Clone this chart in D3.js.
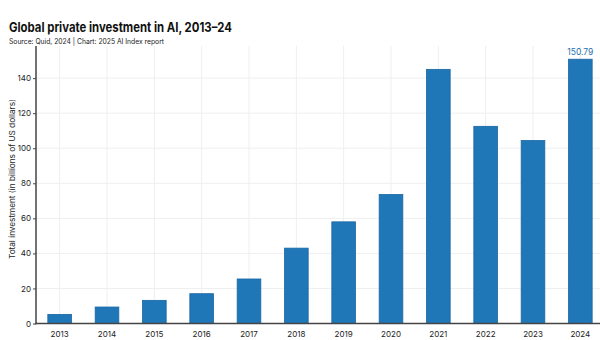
<!DOCTYPE html>
<html><head><meta charset="utf-8">
<script src="https://cdn.jsdelivr.net/npm/d3@7"></script>
<style>body{margin:0;background:#fff;}svg{display:block;}</style>
</head><body><svg id="c" width="600" height="340"></svg>
<script>
const years = ["2013","2014","2015","2016","2017","2018","2019","2020","2021","2022","2023","2024"];
const investment = [5.2, 9.4, 13.2, 17.0, 25.4, 43.0, 58.0, 73.6, 145.0, 112.5, 104.4, 150.79];
const yTicks = [0, 20, 40, 60, 80, 100, 120, 140];
const title = "Global private investment in AI, 2013–24";
const subtitle = "Source: Quid, 2024 | Chart: 2025 AI Index report";
const yLabel = "Total investment (in billions of US dollars)";

const svg = d3.select("#c");
const font = "Inter, 'Liberation Sans', Arial, sans-serif";
const mLeft = 36, mRight = 604, mTop = 46, mBottom = 323.5;

const x = d3.scaleBand().domain(years).range([mLeft, mRight]).paddingInner(0.5).paddingOuter(0.25);
const y = d3.scaleLinear().domain([0, d3.max(investment) * 1.05]).range([mBottom, mTop]);

// grid
svg.append("g").selectAll("line").data(yTicks).join("line")
  .attr("x1", mLeft).attr("x2", 600).attr("y1", d => y(d)).attr("y2", d => y(d))
  .attr("stroke", "#efefef").attr("stroke-width", 1);
svg.append("g").selectAll("line").data(years).join("line")
  .attr("x1", d => x(d) + x.bandwidth()/2).attr("x2", d => x(d) + x.bandwidth()/2)
  .attr("y1", mTop).attr("y2", mBottom)
  .attr("stroke", "#efefef").attr("stroke-width", 1);

// bars
svg.append("g").selectAll("rect").data(investment).join("rect")
  .attr("x", (d,i) => x(years[i]))
  .attr("y", d => y(d))
  .attr("width", x.bandwidth())
  .attr("height", d => y(0) - y(d))
  .attr("fill", "#1f77b8")
  .attr("stroke", "#1a66a3").attr("stroke-width", 0.8);

// last value label
const li = investment.length - 1;
svg.append("text")
  .attr("x", x(years[li]) + x.bandwidth()/2).attr("y", y(investment[li]) - 4)
  .attr("text-anchor", "middle").attr("font-family", font).attr("font-size", 8.5)
  .attr("fill", "#1f6fae").text(investment[li].toFixed(2));

// axes
const yAxis = svg.append("g").attr("transform", `translate(${mLeft},0)`)
  .call(d3.axisLeft(y).tickValues(yTicks).tickSize(3).tickPadding(2));
yAxis.select(".domain").remove();
yAxis.selectAll(".tick line").attr("stroke", "#444");
yAxis.selectAll("text").attr("font-family", font).attr("font-size", 8).attr("fill", "#222");

const xAxis = svg.append("g").attr("transform", `translate(0,${mBottom})`)
  .call(d3.axisBottom(x).tickSize(0).tickPadding(8));
xAxis.select(".domain").remove();
xAxis.selectAll("text").attr("font-family", font).attr("font-size", 8).attr("fill", "#222");

svg.append("line").attr("x1", mLeft).attr("x2", mLeft).attr("y1", mTop).attr("y2", mBottom + 0.75)
  .attr("stroke", "#444").attr("stroke-width", 1.5);
svg.append("line").attr("x1", mLeft - 0.75).attr("x2", 600).attr("y1", mBottom).attr("y2", mBottom)
  .attr("stroke", "#444").attr("stroke-width", 1.5);

// y label
svg.append("text").attr("transform", `translate(14.5,179) rotate(-90)`)
  .attr("text-anchor", "middle").attr("font-family", font).attr("font-size", 8)
  .attr("textLength", 160).attr("lengthAdjust", "spacingAndGlyphs")
  .attr("fill", "#222").text(yLabel);

// titles
svg.append("text").attr("x", 9).attr("y", 32).attr("font-family", font)
  .attr("font-size", 13.3).attr("font-weight", 700).attr("fill", "#111")
  .attr("textLength", 223).attr("lengthAdjust", "spacingAndGlyphs").text(title);
svg.append("text").attr("x", 9).attr("y", 43.5).attr("font-family", font)
  .attr("font-size", 7.3).attr("fill", "#222")
  .attr("textLength", 155).attr("lengthAdjust", "spacingAndGlyphs").text(subtitle);
</script></body></html>
